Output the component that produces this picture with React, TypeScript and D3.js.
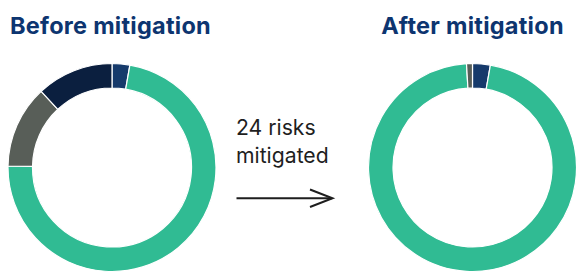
import React from "react";
import * as d3 from "d3";

const categories = ["Low", "Acceptable", "Medium", "High"];
const colors = ["#163a6b", "#30bb93", "#585e58", "#0b1f3f"];
const beforeValues = [3, 79, 14, 13];
const afterValues = [3, 105, 1, 0];
const titles = ["Before mitigation", "After mitigation"];
const middleLines = ["24 risks", "mitigated"];

const W = 577;
const H = 273;
const outerR = 104;
const innerR = 79.5;
const centers = [
  { x: 112, y: 167.5 },
  { x: 472.5, y: 167.5 },
];

function Donut({ values, cx, cy }: { values: number[]; cx: number; cy: number }) {
  const pie = d3.pie<number>().sort(null).value((d) => d);
  const arc = d3.arc<d3.PieArcDatum<number>>().innerRadius(innerR).outerRadius(outerR);
  const arcs = pie(values);
  return (
    <g transform={`translate(${cx},${cy})`}>
      {arcs.map((a, i) =>
        a.endAngle - a.startAngle > 0 ? (
          <path key={categories[i]} d={arc(a) || ""} fill={colors[i]} stroke="#fff" strokeWidth={1.2} />
        ) : null
      )}
    </g>
  );
}

export default function App() {
  return (
    <svg width={W} height={H} style={{ position: "absolute", left: 0, top: 0 }}>
      {titles.map((t, i) => (
        <text
          key={t}
          x={i === 0 ? 110.5 : 472.5}
          y={33.5}
          textAnchor="middle"
          fontFamily="Inter, sans-serif"
          fontWeight={700}
          fontSize={23.5}
          letterSpacing={0.25}
          fill="#0d3570"
        >
          {t}
        </text>
      ))}
      <Donut values={beforeValues} cx={centers[0].x} cy={centers[0].y} />
      <Donut values={afterValues} cx={centers[1].x} cy={centers[1].y} />
      {middleLines.map((l, i) => (
        <text
          key={l}
          x={236}
          y={135 + i * 28.3}
          fontFamily="Inter, sans-serif"
          fontSize={21.2}
          fill="#1e1e1e"
        >
          {l}
        </text>
      ))}
      <g stroke="#1e1e1e" strokeWidth={2} fill="none" strokeLinecap="butt">
        <line x1={236.5} y1={198.3} x2={332} y2={198.3} />
        <polyline points="310,189.5 332.5,198.3 310,207" strokeLinejoin="miter" />
      </g>
    </svg>
  );
}
